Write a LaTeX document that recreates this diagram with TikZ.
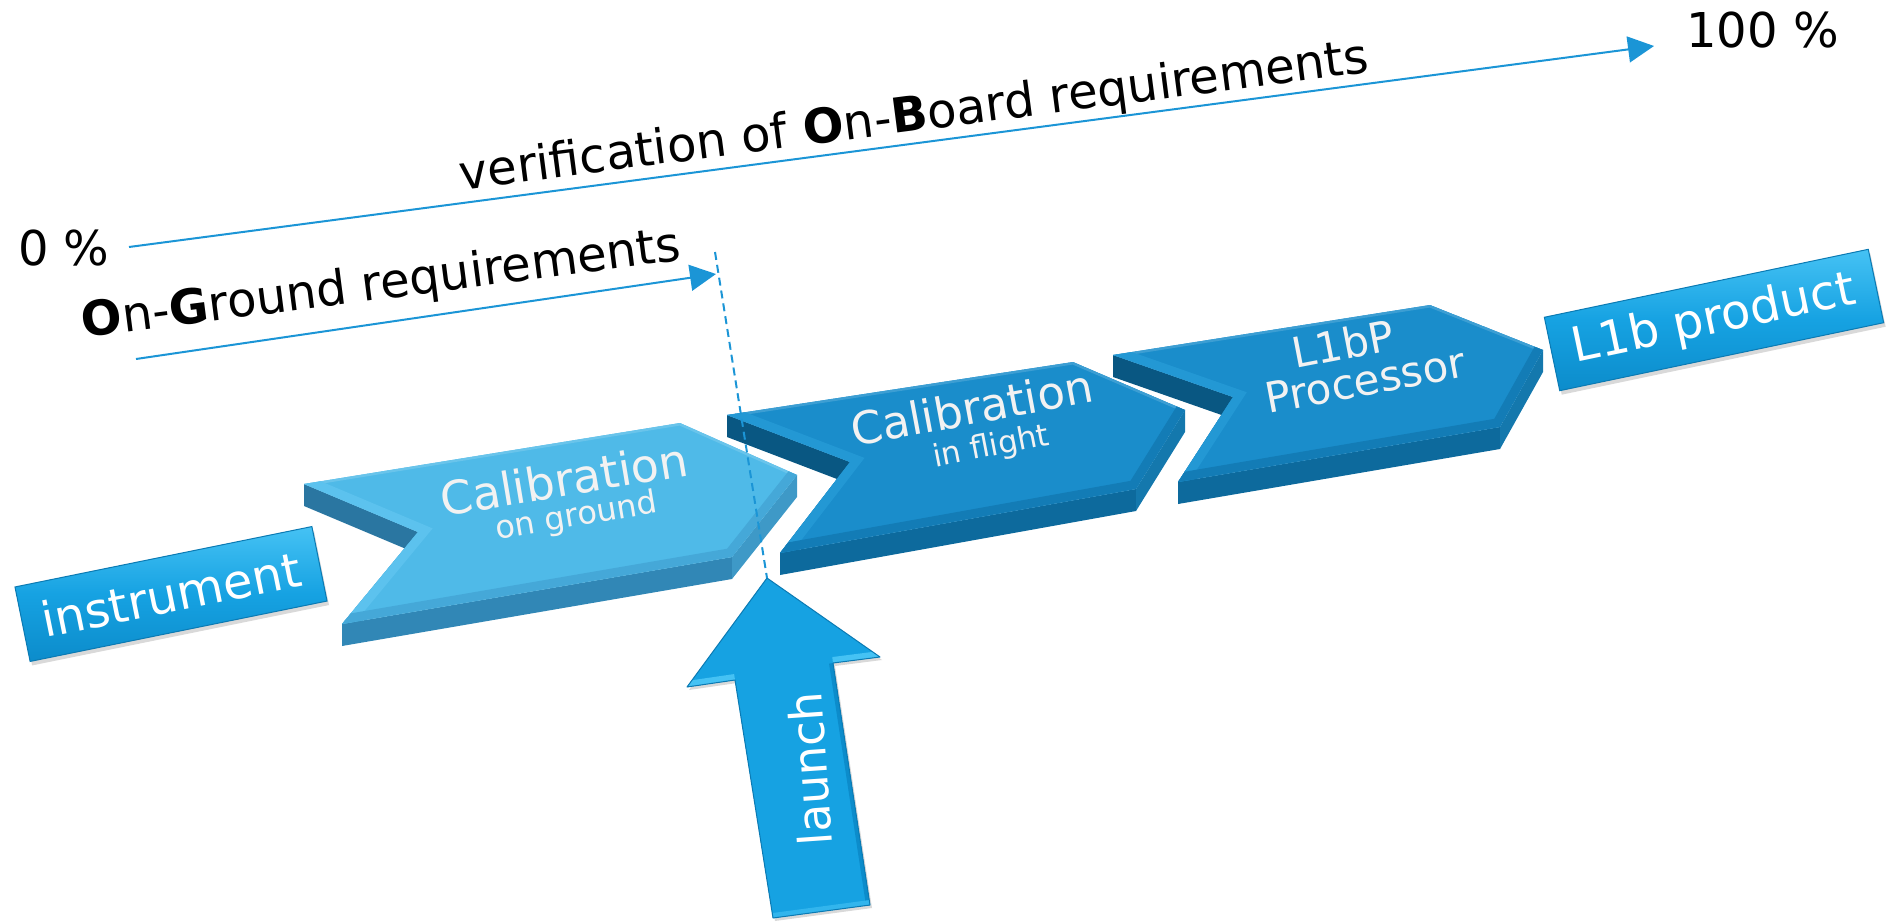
\documentclass[tikz,border=0pt]{standalone}
\usepackage{fontspec}
\setmainfont{DejaVu Sans}
\usepackage{xcolor}
\usepackage{tikz}
\usetikzlibrary{arrows.meta,shadows}

\definecolor{lineblue}{HTML}{1B95D6}
\definecolor{groundtop}{HTML}{4FBAE8}
\definecolor{groundbev}{HTML}{45A8D8}
\definecolor{groundlit}{HTML}{5CC2EE}
\definecolor{groundwall}{HTML}{3187B6}
\definecolor{grounddark}{HTML}{2A76A1}
\definecolor{flighttop}{HTML}{1A8DCB}
\definecolor{flightbev}{HTML}{137CB6}
\definecolor{flightlit}{HTML}{2398D4}
\definecolor{flightwall}{HTML}{0D6A9D}
\definecolor{flightdark}{HTML}{095782}
\definecolor{boxtop}{HTML}{45C2F4}
\definecolor{boxmid}{HTML}{16A2E2}
\definecolor{boxbot}{HTML}{0C8CCB}
\definecolor{boxedge}{HTML}{0B7AB3}

\tikzset{
  timeline/.style={lineblue, line width=2pt, -{Triangle[length=26pt,width=26pt]}},
  bigtext/.style={font=\fontsize{48}{58}\selectfont, inner sep=0pt},
  labelbox/.style={top color=boxtop, bottom color=boxbot, middle color=boxmid,
    draw=boxedge, line width=1pt, text=white, inner sep=0pt,
    font=\fontsize{48}{58}\selectfont,
    drop shadow={shadow xshift=2pt, shadow yshift=-4pt, opacity=0.3}},
  embossed/.style={text=white!95!black, inner sep=0pt, anchor=base},
}

\begin{document}
\begin{tikzpicture}[x=1pt, y=-1pt]
        \useasboundingbox (0, 0) rectangle (1886, 923);

        % percentage scale and the two requirement arrows
        \node[bigtext, anchor=base west] (zero) at (18, 265) {0 \%};
        \node[bigtext, anchor=base west] (full) at (1686, 48) {100 \%};
        \coordinate (obstart) at (129, 247);
        \coordinate (obend) at (1654, 46);
        \draw[timeline] (obstart) -- (obend);
        \node[bigtext, anchor=base, rotate=7.4] (onboard) at (916, 131)
            {verification of \textbf{O}n-\textbf{B}oard requirements};

        \coordinate (ogstart) at (136, 359);
        \coordinate (ogend) at (716, 274);
        \draw[timeline] (ogstart) -- (ogend);
        \node[bigtext, anchor=base, rotate=7.4] (onground) at (383, 299)
            {\textbf{O}n-\textbf{G}round requirements};

        % input and output boxes
        \node[labelbox, rotate=11.5, minimum width=303pt, minimum height=76pt] (instr) at (171, 594) {instrument};
        \node[labelbox, rotate=11.85, minimum width=331pt, minimum height=75pt] (product) at (1714, 320) {L1b product};

        % the three chevron slabs, a..f = back-left, back-right, tip, front-right, front-left, notch
        \coordinate (stage1a) at (304, 484);
        \coordinate (stage1b) at (680, 423);
        \coordinate (stage1c) at (797, 475);
        \coordinate (stage1d) at (732, 557);
        \coordinate (stage1e) at (342, 624);
        \coordinate (stage1f) at (418, 532);

        \coordinate (stage2a) at (727, 415);
        \coordinate (stage2b) at (1073, 362);
        \coordinate (stage2c) at (1185, 410);
        \coordinate (stage2d) at (1136, 489);
        \coordinate (stage2e) at (780, 553);
        \coordinate (stage2f) at (850, 462);

        \coordinate (stage3a) at (1113, 355);
        \coordinate (stage3b) at (1430, 305);
        \coordinate (stage3c) at (1543, 350);
        \coordinate (stage3d) at (1500, 427);
        \coordinate (stage3e) at (1178, 482);
        \coordinate (stage3f) at (1233, 397);

        \foreach \s/\tp/\bv/\lt/\wl/\dk in {3/flighttop/flightbev/flightlit/flightwall/flightdark,
                                            2/flighttop/flightbev/flightlit/flightwall/flightdark,
                                            1/groundtop/groundbev/groundlit/groundwall/grounddark} {
            % side walls
            \fill[\dk] (stage\s a) -- (stage\s f) -- ([yshift=-22pt]stage\s f) -- ([yshift=-22pt]stage\s a) -- cycle;
            \fill[\wl!75!\lt] (stage\s f) -- (stage\s e) -- ([yshift=-22pt]stage\s e) -- ([yshift=-22pt]stage\s f) -- cycle;
            \fill[\wl] (stage\s e) -- (stage\s d) -- ([yshift=-22pt]stage\s d) -- ([yshift=-22pt]stage\s e) -- cycle;
            \fill[\wl!70!\lt] (stage\s d) -- (stage\s c) -- ([yshift=-22pt]stage\s c) -- ([yshift=-22pt]stage\s d) -- cycle;
            % top face with bevel bands
            \begin{scope}
                \clip (stage\s a) -- (stage\s b) -- (stage\s c) -- (stage\s d) -- (stage\s e) -- (stage\s f) -- cycle;
                \fill[\tp] (stage\s a) -- (stage\s b) -- (stage\s c) -- (stage\s d) -- (stage\s e) -- (stage\s f) -- cycle;
                \draw[\tp!85!white, line width=5pt] (stage\s a) -- (stage\s b) -- (stage\s c);
                \draw[\lt, line width=18pt] (stage\s a) -- (stage\s f) -- (stage\s e);
                \draw[\bv, line width=18pt] (stage\s e) -- (stage\s d) -- (stage\s c);
            \end{scope}
        }

        % slab captions
        \node[embossed, rotate=9.5, font=\fontsize{46}{50}\selectfont] (cal1) at (567, 496) {Calibration};
        \node[embossed, rotate=9.5, font=\fontsize{32}{36}\selectfont] (ground1) at (578, 526) {on ground};

        \node[embossed, rotate=10.6, font=\fontsize{45}{50}\selectfont] (cal2) at (975, 424) {Calibration};
        \node[embossed, rotate=11, font=\fontsize{31}{36}\selectfont] (flight2) at (993, 456) {in flight};

        \node[embossed, rotate=11, font=\fontsize{42}{50}\selectfont] (proc3) at (1346, 359) {L1bP};
        \node[embossed, rotate=10.6, font=\fontsize{42}{50}\selectfont] (processor3) at (1368, 395) {Processor};

        % launch arrow
        \coordinate (lt) at (767, 578);
        \coordinate (lrw) at (880, 657);
        \coordinate (lri) at (833, 663);
        \coordinate (lbr) at (870, 905);
        \coordinate (lbl) at (773, 918);
        \coordinate (lli) at (735, 680);
        \coordinate (llw) at (687, 687);
        \fill[boxmid, drop shadow={shadow xshift=2pt, shadow yshift=-3pt, opacity=0.3}]
            (lt) -- (lrw) -- (lri) -- (lbr) -- (lbl) -- (lli) -- (llw) -- cycle;
        \begin{scope}
            \clip (lt) -- (lrw) -- (lri) -- (lbr) -- (lbl) -- (lli) -- (llw) -- cycle;
            \draw[boxtop, line width=12pt] (llw) -- (lli);
            \draw[boxtop, line width=12pt] (lri) -- (lrw);
            \draw[boxbot, line width=8pt] (lri) -- (lbr);
            \draw[boxtop!60!boxmid, line width=10pt] (lbr) -- (lbl);
        \end{scope}
        \draw[boxedge, line width=1pt, line join=round]
            (lt) -- (lrw) -- (lri) -- (lbr) -- (lbl) -- (lli) -- (llw) -- cycle;
        \node[text=white, inner sep=0pt, anchor=base, rotate=94, font=\fontsize{46}{50}\selectfont] (launch) at (827, 768) {launch};

        % end of the on-ground phase
        \coordinate (gline) at (715, 252);
        \draw[lineblue, line width=2pt, dash pattern=on 8pt off 5pt] (gline) -- (lt);
\end{tikzpicture}
\end{document}
